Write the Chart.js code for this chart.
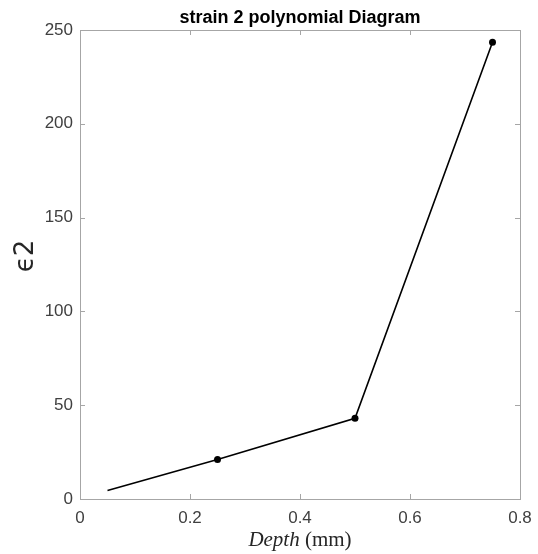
<!DOCTYPE html>
<html>
<head>
<meta charset="utf-8">
<script src="https://cdn.jsdelivr.net/npm/chart.js@4/dist/chart.umd.min.js"></script>
<style>
  html, body { margin: 0; padding: 0; background: #fff; }
  #wrap { width: 538px; height: 554px; }
</style>
</head>
<body>
<div id="wrap"><canvas id="strainChart"></canvas></div>
<script>
// depth (mm) vs strain 2
const depthValues = [0.05, 0.25, 0.5, 0.75];
const strainValues = [4.5, 21, 43, 243.5];
const markerSizes = [0, 3.5, 3.5, 3.5];
const xTicks = [0, 0.2, 0.4, 0.6, 0.8];
const yTicks = [0, 50, 100, 150, 200, 250];

const axisGrey = '#a6a6a6';
const labelColor = '#404040';

// box on top/right, inward ticks and the axis titles, matlab style
const boxPlugin = {
    id: 'boxPlugin',
    afterDraw(chart) {
        const ctx = chart.ctx;
        const a = chart.chartArea;
        const xs = chart.scales.x;
        const ys = chart.scales.y;
        ctx.save();
        ctx.strokeStyle = axisGrey;
        ctx.lineWidth = 1;
        ctx.strokeRect(Math.round(a.left) + 0.5, Math.round(a.top) + 0.5,
            Math.round(a.right - a.left), Math.round(a.bottom - a.top));
        ctx.beginPath();
        xTicks.forEach(function(v) {
            const px = Math.round(xs.getPixelForValue(v)) + 0.5;
            ctx.moveTo(px, a.bottom); ctx.lineTo(px, a.bottom - 5);
            ctx.moveTo(px, a.top); ctx.lineTo(px, a.top + 5);
        });
        yTicks.forEach(function(v) {
            const py = Math.round(ys.getPixelForValue(v)) + 0.5;
            ctx.moveTo(a.left, py); ctx.lineTo(a.left + 5, py);
            ctx.moveTo(a.right, py); ctx.lineTo(a.right - 5, py);
        });
        ctx.stroke();

        // x axis title: italic "Depth" + upright " (mm)"
        const part1 = 'Depth';
        const part2 = ' (mm)';
        const f1 = 'italic 21px "Liberation Serif"';
        const f2 = '21px "Liberation Serif"';
        ctx.font = f1; const w1 = ctx.measureText(part1).width;
        ctx.font = f2; const w2 = ctx.measureText(part2).width;
        const cx = (a.left + a.right) / 2;
        let sx = cx - (w1 + w2) / 2;
        ctx.fillStyle = '#262626';
        ctx.textBaseline = 'alphabetic';
        ctx.textAlign = 'left';
        ctx.font = f1; ctx.fillText(part1, sx, 546);
        ctx.font = f2; ctx.fillText(part2, sx + w1, 546);

        // y axis title
        ctx.translate(26, 256);
        ctx.rotate(-Math.PI / 2);
        ctx.textAlign = 'center';
        ctx.textBaseline = 'middle';
        ctx.font = '26px "DejaVu Sans"';
        ctx.fillText('ϵ2', 0, 0);
        ctx.restore();
    }
};

const ctx = document.getElementById('strainChart').getContext('2d');

new Chart(ctx, {
    type: 'line',
    data: {
        datasets: [{
            label: 'strain 2',
            data: depthValues.map(function(d, i) { return { x: d, y: strainValues[i] }; }),
            borderColor: '#000',
            backgroundColor: '#000',
            borderWidth: 1.6,
            pointRadius: markerSizes,
            pointBackgroundColor: '#000',
            pointBorderWidth: 0,
            fill: false,
            tension: 0
        }]
    },
    options: {
        responsive: true,
        maintainAspectRatio: false,
        animation: false,
        layout: {
            padding: { left: 0, right: 18, top: 0, bottom: 0 }
        },
        plugins: {
            legend: { display: false },
            tooltip: { enabled: false },
            title: {
                display: true,
                fullSize: false,
                text: 'strain 2 polynomial Diagram',
                color: '#000',
                font: { family: '"Liberation Sans", Arial', size: 18, weight: 'bold' },
                padding: { top: 7.7, bottom: 0.7 }
            }
        },
        scales: {
            x: {
                type: 'linear',
                min: 0,
                max: 0.8,
                afterBuildTicks: function(scale) {
                    scale.ticks = xTicks.map(function(v) { return { value: v }; });
                },
                afterFit: function(scale) {
                    scale.height = 55;
                    scale.paddingLeft = 0;
                    scale.paddingRight = 0;
                },
                grid: { display: false, drawTicks: false },
                border: { display: true, color: axisGrey },
                ticks: {
                    color: labelColor,
                    padding: 9,
                    font: { family: '"Liberation Sans", Arial', size: 17 },
                    callback: function(v) { return String(v); }
                }
            },
            y: {
                type: 'linear',
                min: 0,
                max: 250,
                afterBuildTicks: function(scale) {
                    scale.ticks = yTicks.map(function(v) { return { value: v }; });
                },
                afterFit: function(scale) {
                    scale.width = 80;
                    scale.paddingTop = 0;
                    scale.paddingBottom = 0;
                },
                grid: { display: false, drawTicks: false },
                border: { display: true, color: axisGrey },
                ticks: {
                    color: labelColor,
                    padding: 7,
                    font: { family: '"Liberation Sans", Arial', size: 17 }
                }
            }
        }
    },
    plugins: [boxPlugin]
});
</script>
</body>
</html>
